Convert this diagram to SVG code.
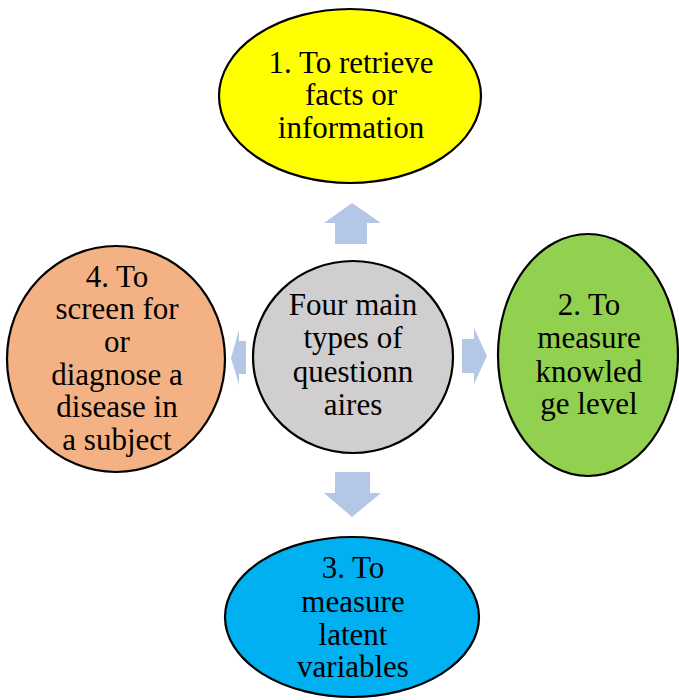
<svg xmlns="http://www.w3.org/2000/svg" width="679" height="700" viewBox="0 0 679 700">
<style>
.node{stroke:#000;stroke-width:2.2}
.t{font-family:"Liberation Serif","Times New Roman",serif;font-size:31px;fill:#000;text-anchor:middle}
.arr{fill:#B4C7E7}
</style>
<rect width="679" height="700" fill="#fff"/>
<g id="connectors">
<polygon class="arr" points="352,203 381,223 367,223 367,244 335,244 335,223 324,223"/>
<polygon class="arr" points="462,339 474,339 474,328 487,356 474,384 474,373 462,373"/>
<polygon class="arr" points="335,472 370,472 370,493 381,493 352,517 324,493 335,493"/>
<polygon class="arr" points="246,341 239,341 239,330 231,358 239,385 239,374 246,374"/>
</g>
<g id="center">
<ellipse class="node" cx="353" cy="357" rx="100" ry="96" fill="#D0CECE"/>
<text class="t" x="353" y="315">Four main</text>
<text class="t" x="353" y="348">types of</text>
<text class="t" x="353" y="382">questionn</text>
<text class="t" x="353" y="415">aires</text>
</g>
<g id="node1">
<ellipse class="node" cx="350" cy="96" rx="131" ry="87" fill="#FFFF00"/>
<text class="t" x="351" y="73">1. To retrieve</text>
<text class="t" x="351" y="105">facts or</text>
<text class="t" x="351" y="138">information</text>
</g>
<g id="node2">
<ellipse class="node" cx="588" cy="355" rx="90" ry="121" fill="#92D050"/>
<text class="t" x="589" y="315">2. To</text>
<text class="t" x="589" y="348">measure</text>
<text class="t" x="589" y="382">knowled</text>
<text class="t" x="589" y="414">ge level</text>
</g>
<g id="node3">
<ellipse class="node" cx="352" cy="617" rx="127" ry="80" fill="#00B0F0"/>
<text class="t" x="353" y="578">3. To</text>
<text class="t" x="353" y="612">measure</text>
<text class="t" x="353" y="645">latent</text>
<text class="t" x="353" y="677">variables</text>
</g>
<g id="node4">
<ellipse class="node" cx="116" cy="359" rx="109" ry="113" fill="#F4B183"/>
<text class="t" x="117" y="287">4. To</text>
<text class="t" x="117" y="319">screen for</text>
<text class="t" x="117" y="352">or</text>
<text class="t" x="117" y="385">diagnose a</text>
<text class="t" x="117" y="417">disease in</text>
<text class="t" x="117" y="450">a subject</text>
</g>
</svg>
